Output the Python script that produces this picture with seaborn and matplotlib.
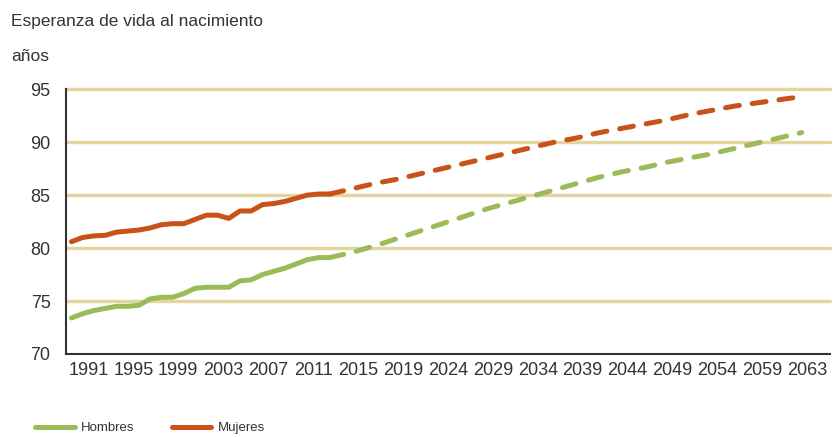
import pandas as pd
import matplotlib.pyplot as plt
from matplotlib.lines import Line2D
import seaborn as sns

# Esperanza de vida al nacimiento (años), observada y proyectada
# posiciones = índice de categoría en el eje (4 categorías por etiqueta)
tick_labels = ['1991', '1995', '1999', '2003', '2007', '2011', '2015', '2019', '2024',
               '2029', '2034', '2039', '2044', '2049', '2054', '2059', '2063']

obs_pos = list(range(0, 24))
hombres_obs = [73.4, 73.8, 74.1, 74.3, 74.5, 74.5, 74.6, 75.2, 75.35, 75.35, 75.7, 76.2,
               76.3, 76.3, 76.3, 76.9, 77.0, 77.5, 77.8, 78.1, 78.5, 78.9, 79.1, 79.1]
mujeres_obs = [80.6, 81.0, 81.15, 81.2, 81.5, 81.6, 81.7, 81.9, 82.2, 82.3, 82.3, 82.7,
               83.1, 83.1, 82.8, 83.5, 83.5, 84.1, 84.2, 84.4, 84.7, 85.0, 85.1, 85.1]

proj_pos = list(range(23, 66, 2))
hombres_proj = [79.1, 79.6, 80.2, 80.9, 81.6, 82.3, 83.0, 83.7, 84.3, 84.9, 85.5,
                86.1, 86.7, 87.2, 87.6, 88.1, 88.5, 88.9, 89.4, 89.9, 90.4, 90.9]
mujeres_proj = [85.1, 85.6, 86.1, 86.5, 87.0, 87.5, 88.0, 88.5, 89.0, 89.5, 90.0,
                90.4, 90.9, 91.3, 91.7, 92.1, 92.6, 93.0, 93.4, 93.7, 94.0, 94.3]

frames = []
for sexo, obs, proj in [('Hombres', hombres_obs, hombres_proj),
                        ('Mujeres', mujeres_obs, mujeres_proj)]:
    frames.append(pd.DataFrame({'pos': obs_pos, 'valor': obs, 'sexo': sexo, 'tipo': 'obs'}))
    frames.append(pd.DataFrame({'pos': proj_pos, 'valor': proj, 'sexo': sexo, 'tipo': 'proj'}))
df = pd.concat(frames, ignore_index=True)

colores = {'Hombres': '#9BBB59', 'Mujeres': '#C8531A'}
gris = '#333333'

sns.set_style('white')
plt.rcParams['font.family'] = ['Liberation Sans', 'DejaVu Sans']

fig = plt.figure(figsize=(8.34, 4.37), dpi=100)
ax = fig.add_axes([0.079, 0.19, 0.916, 0.606])

sns.lineplot(data=df, x='pos', y='valor', hue='sexo', style='tipo',
             palette=colores, dashes={'obs': '', 'proj': (2.8, 2.6)},
             units='sexo', estimator=None, linewidth=3.6, legend=False, ax=ax)
for line in ax.get_lines():
    line.set_dash_capstyle('round')
    line.set_solid_capstyle('round')

# ejes
n_cat = 4 * len(tick_labels)
ax.set_xlim(-0.5, n_cat - 0.5)
ax.set_ylim(70, 95)
ax.set_xticks([i * 4 - 0.5 for i in range(len(tick_labels) + 1)])
ax.set_xticklabels([])
ax.set_xticks([i * 4 + 1.5 for i in range(len(tick_labels))], minor=True)
ax.set_xticklabels(tick_labels, minor=True)
ax.tick_params(axis='x', which='major', length=5, width=1.3, color=gris, direction='out')
ax.tick_params(axis='x', which='minor', length=0, pad=6, labelsize=13, labelcolor=gris)
ax.set_yticks([70, 75, 80, 85, 90, 95])
ax.tick_params(axis='y', length=5, width=1.3, color=gris, direction='out',
               labelsize=13, labelcolor=gris, pad=6)
ax.set_xlabel('')
ax.set_ylabel('')

ax.set_axisbelow(True)
ax.grid(axis='y', color='#E3D59E', linewidth=2.4)
for gl in ax.get_ygridlines():
    gl.set_clip_on(False)
ax.get_ygridlines()[0].set_visible(False)

sns.despine(ax=ax)
for s in ['left', 'bottom']:
    ax.spines[s].set_color(gris)
    ax.spines[s].set_linewidth(1.5)

fig.text(0.013, 0.95, 'Esperanza de vida al nacimiento', fontsize=12.5,
         color=gris, va='center', ha='left')
fig.text(0.013, 0.87, 'años', fontsize=12.5, color=gris, va='center', ha='left')

handles = [Line2D([], [], color=colores[k], linewidth=3.6) for k in ['Hombres', 'Mujeres']]
fig.legend(handles, ['Hombres', 'Mujeres'], loc='lower left', bbox_to_anchor=(0.042, 0.006),
           ncol=2, frameon=False, fontsize=9.5, handlelength=3.0, handletextpad=0.5,
           columnspacing=2.8, borderpad=0, borderaxespad=0, labelcolor=gris)

fig.savefig('out.png', dpi=100)
